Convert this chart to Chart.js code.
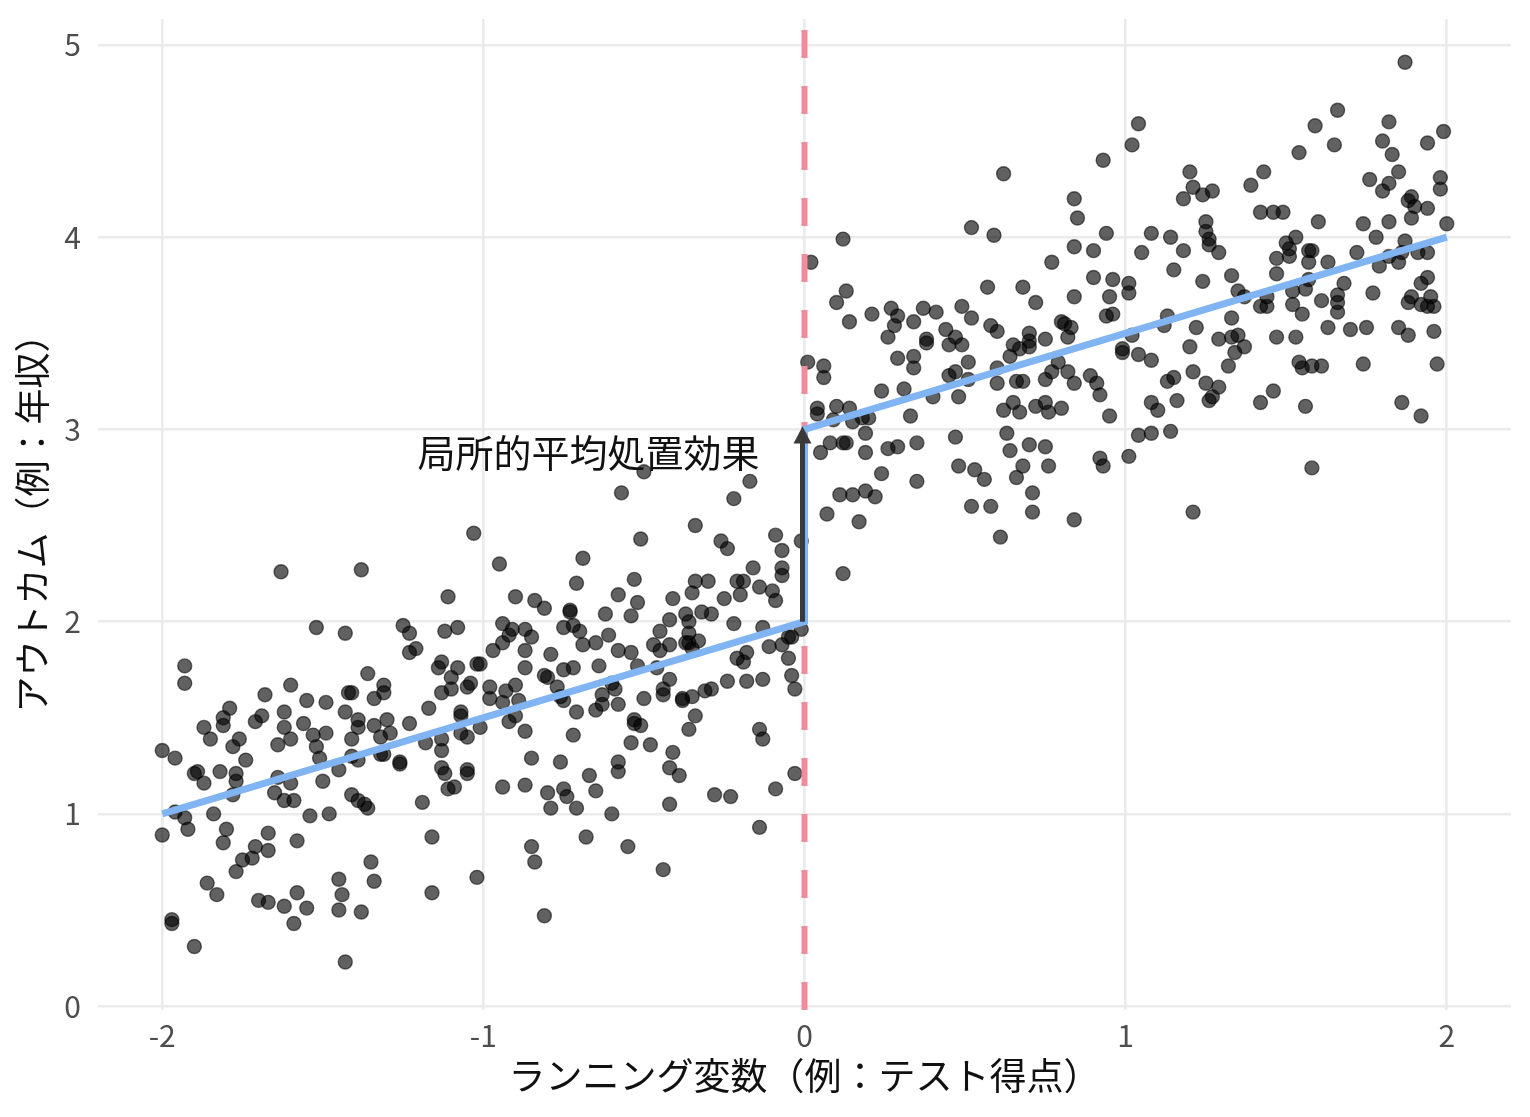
<!DOCTYPE html>
<html lang="ja">
<head>
<meta charset="utf-8">
<title>回帰不連続デザイン</title>
<script src="https://cdn.jsdelivr.net/npm/chart.js@4.4.1/dist/chart.umd.min.js"></script>
<style>
  html, body { margin: 0; padding: 0; background: #fff; }
  #wrap { width: 1530px; height: 1117px; }
</style>
</head>
<body>
<div id="wrap"><canvas id="grafica"></canvas></div>
<script>
const FONT = '"Noto Sans CJK JP", "Noto Sans", sans-serif';

// axis ticks / ranges
const xTicks = [-2, -1, 0, 1, 2];
const yTicks = [0, 1, 2, 3, 4, 5];
const xRange = [-2.2, 2.2];
const yRange = [-0.02, 5.135];

// cutoff and fitted line
const cutoff = 0;
const fitX = [-2, 0, 0, 2];
const fitY = [1, 2, 3, 4];

// effect arrow + label
const effectY = [2, 3];
const effectLabel = '局所的平均処置効果';
const labelAt = [-0.14, 2.88];

const belowCutoff = [
  [-1.63,2.26],[-1.38,2.27],[-1.11,2.13],[-1.93,1.77],[-1.93,1.68],[-1.52,1.97],[-1.43,1.94],[-1.25,1.98],
  [-1.23,1.94],[-1.21,1.86],[-1.23,1.84],[-1.12,1.95],[-1.08,1.97],[-1.13,1.79],[-1.14,1.76],[-1.08,1.76],
  [-1.02,1.78],[-1.10,1.71],[-1.10,1.65],[-1.13,1.63],[-1.04,1.68],[-1.05,1.66],[-1.36,1.73],[-1.60,1.67],
  [-1.68,1.62],[-1.55,1.59],[-1.49,1.58],[-1.42,1.63],[-1.41,1.63],[-1.31,1.67],[-1.31,1.63],[-1.34,1.60],
  [-1.79,1.55],[-1.81,1.50],[-1.81,1.46],[-1.87,1.45],[-1.85,1.39],[-1.71,1.48],[-1.69,1.51],[-1.62,1.53],
  [-1.62,1.45],[-1.56,1.47],[-1.60,1.39],[-1.53,1.41],[-1.49,1.42],[-1.52,1.35],[-1.43,1.53],[-1.39,1.49],
  [-1.39,1.45],[-1.34,1.46],[-1.30,1.49],[-1.29,1.42],[-1.32,1.40],[-1.41,1.39],[-1.23,1.47],[-1.17,1.55],
  [-1.07,1.53],[-1.07,1.51],[-1.07,1.42],[-1.05,1.40],[-1.13,1.39],[-1.13,1.33],[-1.18,1.37],[-1.64,1.36],
  [-1.76,1.39],[-1.78,1.35],[-2.00,1.33],[-1.96,1.29],
  [-1.90,1.21],[-1.89,1.22],[-1.87,1.16],[-1.82,1.22],[-1.77,1.21],[-1.77,1.17],[-1.78,1.10],[-1.74,1.28],
  [-1.65,1.11],[-1.64,1.19],[-1.60,1.16],[-1.62,1.07],[-1.59,1.07],[-1.51,1.29],[-1.50,1.17],[-1.45,1.23],
  [-1.41,1.10],[-1.39,1.07],[-1.37,1.05],[-1.36,1.03],[-1.41,1.30],[-1.39,1.28],[-1.32,1.31],[-1.31,1.31],
  [-1.26,1.27],[-1.26,1.26],[-1.13,1.24],[-1.12,1.21],[-1.05,1.23],[-1.05,1.21],[-1.11,1.13],[-1.09,1.14],
  [-1.19,1.06],[-1.96,1.01],[-1.93,0.98],[-1.92,0.92],[-1.84,1.00],[-2.00,0.89],[-1.80,0.92],[-1.81,0.85],
  [-1.67,0.90],[-1.71,0.83],[-1.72,0.77],[-1.67,0.81],[-1.75,0.76],[-1.77,0.70],[-1.58,0.86],[-1.54,0.99],
  [-1.48,1.00],[-1.16,0.88],[-1.35,0.75],[-1.34,0.65],[-1.45,0.66],[-1.44,0.58],[-1.45,0.50],[-1.38,0.49],
  [-1.16,0.59],[-1.02,0.67],[-1.86,0.64],[-1.83,0.58],[-1.70,0.55],[-1.67,0.54],[-1.62,0.52],[-1.58,0.59],
  [-1.55,0.51],[-1.59,0.43],[-1.97,0.45],[-1.97,0.43],[-1.90,0.31],[-1.43,0.23],
  [-0.50,2.78],[-0.17,2.73],[-0.57,2.67],[-0.22,2.64],[-1.03,2.46],[-0.34,2.50],[-0.51,2.43],[-0.26,2.42],
  [-0.24,2.38],[-0.09,2.45],[-0.07,2.37],[-0.01,2.42],[-0.95,2.30],[-0.69,2.33],[-0.71,2.20],[-0.53,2.22],
  [-0.16,2.28],[-0.07,2.28],[-0.07,2.24],[-0.34,2.21],[-0.30,2.21],[-0.21,2.21],[-0.19,2.21],[-0.35,2.15],
  [-0.14,2.18],[-0.10,2.16],[-0.09,2.11],[-0.20,2.14],[-0.25,2.12],[-0.90,2.13],[-0.84,2.11],[-0.81,2.07],
  [-0.58,2.14],[-0.52,2.10],[-0.41,2.12],[-0.73,2.06],[-0.62,2.04],[-0.54,2.03],[-0.37,2.04],[-0.36,2.00],
  [-0.32,2.05],[-0.29,2.04],[-0.42,2.01],[-0.22,1.99],[-0.13,1.97],[-0.94,1.99],[-0.91,1.96],[-0.87,1.96],
  [-0.85,1.92],[-0.92,1.93],[-0.94,1.89],[-0.75,1.97],[-0.72,1.98],[-0.70,1.95],[-0.73,2.05],[-0.61,1.93],
  [-0.45,1.95],[-0.36,1.94],[-0.36,1.89],[-0.33,1.90],[-0.37,1.89],[-0.69,1.88],[-0.65,1.89],[-0.58,1.85],
  [-0.54,1.84],[-0.47,1.88],[-0.45,1.85],[-0.42,1.88],[-0.35,1.86],[-0.97,1.85],[-0.87,1.85],[-0.79,1.83],
  [-1.01,1.78],[-0.87,1.76],[-0.75,1.75],[-0.72,1.76],[-0.64,1.77],[-0.52,1.77],[-0.46,1.76],[-0.81,1.72],
  [-0.80,1.71],[-0.77,1.66],[-0.90,1.67],[-0.93,1.64],[-0.98,1.66],[-0.98,1.60],[-0.89,1.59],[-0.94,1.58],
  [-0.76,1.61],[-0.75,1.59],[-0.71,1.53],[-0.65,1.54],[-0.63,1.62],[-0.60,1.68],[-0.59,1.65],[-0.58,1.57],
  [-0.50,1.60],[-0.44,1.65],[-0.44,1.62],[-0.42,1.70],[-0.38,1.60],[-0.38,1.59],[-0.35,1.61],[-0.31,1.64],
  [-0.29,1.65],[-0.24,1.69],[-0.18,1.69],[-0.13,1.70],[-0.11,1.87],[-0.07,1.88],[-0.05,1.92],[-0.04,1.92],
  [-0.01,1.96],[-0.05,1.81],[-0.21,1.81],[-0.18,1.84],[-0.19,1.79],[-0.04,1.72],[-0.03,1.65],[-0.34,1.51],
  [-0.53,1.49],
  [-0.63,1.57],[-0.90,1.51],[-0.92,1.48],[-1.01,1.45],[-0.87,1.43],[-0.72,1.41],[-0.53,1.47],[-0.51,1.46],
  [-0.36,1.44],[-0.54,1.37],[-0.48,1.36],[-0.41,1.32],[-0.14,1.44],[-0.13,1.39],[-0.85,1.29],[-0.76,1.27],
  [-0.58,1.27],[-0.58,1.22],[-0.67,1.20],[-0.42,1.24],[-0.39,1.20],[-0.94,1.14],[-0.87,1.15],[-0.80,1.11],
  [-0.75,1.13],[-0.74,1.09],[-0.65,1.12],[-0.79,1.03],[-0.71,1.03],[-0.60,1.00],[-0.42,1.05],[-0.28,1.10],
  [-0.23,1.09],[-0.09,1.13],[-0.03,1.21],[-0.14,0.93],[-0.68,0.88],[-0.85,0.83],[-0.84,0.75],[-0.55,0.83],
  [-0.44,0.71],[-0.81,0.47]
];

const aboveCutoff = [
  [0.62,4.33],[0.93,4.40],[0.84,4.20],[0.85,4.10],[0.52,4.05],[0.59,4.01],[0.94,4.02],[0.12,3.99],
  [0.84,3.95],[0.90,3.93],[0.02,3.87],[0.77,3.87],[0.13,3.72],[0.10,3.66],[0.57,3.74],[0.68,3.74],
  [0.90,3.79],[0.96,3.78],[1.01,3.76],[0.84,3.69],[0.95,3.69],[1.01,3.71],[0.72,3.66],[0.21,3.60],
  [0.27,3.63],[0.29,3.59],[0.28,3.54],[0.34,3.56],[0.37,3.63],[0.41,3.61],[0.49,3.64],[0.52,3.58],
  [0.58,3.54],[0.60,3.51],[0.14,3.56],[0.26,3.48],[0.44,3.52],[0.47,3.48],[0.45,3.44],[0.49,3.44],
  [0.38,3.47],[0.38,3.45],[0.34,3.38],[0.29,3.37],[0.34,3.32],[0.51,3.35],[0.65,3.44],[0.70,3.50],
  [0.70,3.46],[0.70,3.43],[0.67,3.42],[0.64,3.38],[0.75,3.47],[0.80,3.56],[0.81,3.55],[0.83,3.53],
  [0.82,3.48],[0.94,3.59],[0.96,3.60],[0.99,3.42],[0.99,3.40],[0.79,3.35],[0.82,3.30],[0.77,3.30],
  [0.75,3.26],[0.89,3.28],[0.91,3.24],[0.84,3.24],[0.45,3.28],[0.47,3.30],[0.51,3.26],[0.60,3.32],
  [0.60,3.24],[0.66,3.25],[0.68,3.25],[0.01,3.35],[0.06,3.33],[0.06,3.27],[0.24,3.20],[0.31,3.21],
  [0.92,3.18],[0.40,3.17],[0.48,3.17],[0.04,3.11],[0.04,3.08],[0.10,3.12],[0.14,3.11],[0.15,3.04],
  [0.09,3.05],[0.18,3.06],[0.20,3.06],[0.33,3.07],[0.62,3.10],[0.65,3.14],[0.67,3.09],[0.72,3.12],
  [0.75,3.14],[0.76,3.09],[0.80,3.11],[0.95,3.07],[0.19,2.98],[0.08,2.93],[0.12,2.93],[0.13,2.93],
  [0.05,2.88],[0.19,2.88],[0.26,2.90],[0.29,2.91],[0.35,2.93],[0.47,2.96],[0.63,2.98],[0.64,2.89],
  [0.70,2.92],[0.75,2.91],[0.92,2.85],[0.93,2.81],[1.01,2.86],[0.24,2.77],[0.35,2.73],[0.48,2.81],
  [0.53,2.79],[0.56,2.74],[0.68,2.81],[0.66,2.75],[0.76,2.81],[0.11,2.66],[0.15,2.66],[0.19,2.68],
  [0.22,2.65],[0.71,2.67],[0.07,2.56],[0.17,2.52],[0.52,2.60],[0.58,2.60],[0.71,2.57],[0.84,2.53],
  [0.61,2.44],[0.12,2.25],
  [1.87,4.91],[1.66,4.66],[1.04,4.59],[1.02,4.48],[1.59,4.58],[1.82,4.60],[1.99,4.55],[1.80,4.50],
  [1.83,4.43],[1.94,4.49],[1.65,4.48],[1.54,4.44],[1.20,4.34],[1.43,4.34],[1.39,4.27],[1.21,4.26],
  [1.18,4.20],[1.24,4.22],[1.27,4.24],[1.76,4.30],[1.85,4.34],[1.82,4.28],[1.80,4.24],[1.98,4.31],
  [1.98,4.25],[1.89,4.21],[1.88,4.19],[1.90,4.16],[1.94,4.15],[1.89,4.10],[1.42,4.13],[1.46,4.13],
  [1.49,4.13],[1.60,4.08],[1.74,4.07],[1.82,4.08],[2.00,4.07],[1.25,4.08],[1.25,4.03],[1.26,3.99],
  [1.26,3.96],[1.29,3.92],[1.08,4.02],[1.14,4.00],[1.18,3.93],[1.05,3.92],[1.15,3.83],[1.24,3.77],
  [1.50,3.97],[1.53,4.00],[1.51,3.94],[1.47,3.89],[1.51,3.90],[1.47,3.81],[1.57,3.93],[1.58,3.93],
  [1.57,3.87],[1.63,3.87],[1.72,3.92],[1.78,4.00],[1.87,3.98],[1.86,3.92],[1.82,3.90],[1.85,3.87],
  [1.91,3.92],[1.94,3.92],[1.79,3.85],[1.33,3.80],[1.35,3.72],[1.57,3.78],[1.56,3.73],[1.68,3.76],
  [1.77,3.71],[1.94,3.79],[1.92,3.76],[1.95,3.69],[1.89,3.69],[1.66,3.70],[1.61,3.67],
  [1.37,3.69],[1.44,3.69],[1.52,3.72],[1.52,3.65],[1.55,3.60],[1.42,3.64],[1.44,3.64],[1.66,3.66],
  [1.66,3.61],[1.88,3.66],[1.92,3.65],[1.94,3.64],[1.96,3.64],[1.13,3.59],[1.12,3.54],[1.02,3.49],
  [1.33,3.58],[1.22,3.53],[1.63,3.53],[1.70,3.52],[1.75,3.53],[1.85,3.53],[1.88,3.49],[1.96,3.51],
  [1.47,3.48],[1.53,3.48],[1.29,3.47],[1.33,3.48],[1.35,3.49],[1.37,3.43],[1.34,3.40],[1.20,3.43],
  [1.04,3.39],[1.08,3.36],[1.32,3.33],[1.54,3.35],[1.55,3.32],[1.58,3.33],[1.61,3.33],[1.74,3.34],
  [1.97,3.34],[1.13,3.25],[1.15,3.27],[1.21,3.30],[1.25,3.24],[1.29,3.22],[1.26,3.15],[1.27,3.17],
  [1.08,3.14],[1.10,3.10],[1.16,3.15],[1.42,3.14],[1.46,3.20],[1.56,3.12],[1.86,3.14],[1.92,3.07],
  [1.04,2.97],[1.08,2.98],[1.14,2.99],[1.58,2.80],[1.21,2.57]
];

const toPoints = arr => arr.map(([x, y]) => ({ x, y }));

// arrow for the jump at the cutoff plus its label
const efectoPlugin = {
  id: 'efecto',
  afterDatasetsDraw(chart) {
    const { ctx, scales: { x, y } } = chart;
    const px = x.getPixelForValue(cutoff) - 2;
    const yFrom = y.getPixelForValue(effectY[0]);
    const yTo = y.getPixelForValue(effectY[1]);
    ctx.save();
    ctx.strokeStyle = '#3a3a3a';
    ctx.fillStyle = '#3a3a3a';
    ctx.lineWidth = 5;
    ctx.beginPath();
    ctx.moveTo(px, yFrom);
    ctx.lineTo(px, yTo + 10);
    ctx.stroke();
    ctx.beginPath();
    ctx.moveTo(px, yTo - 3);
    ctx.lineTo(px - 9, yTo + 14);
    ctx.lineTo(px + 9, yTo + 14);
    ctx.closePath();
    ctx.fill();

    ctx.font = '38px ' + FONT;
    ctx.fillStyle = '#111';
    ctx.textAlign = 'right';
    ctx.textBaseline = 'middle';
    ctx.fillText(effectLabel, x.getPixelForValue(labelAt[0]), y.getPixelForValue(labelAt[1]));
    ctx.restore();
  }
};

const gridStyle = { color: '#ebebeb', lineWidth: 2.6, drawTicks: false };
const tickStyle = { color: '#4d4d4d', font: { size: 30, family: FONT } };

new Chart(document.getElementById('grafica').getContext('2d'), {
  type: 'scatter',
  data: {
    datasets: [
      {
        label: 'obs',
        data: toPoints(belowCutoff.concat(aboveCutoff)),
        pointRadius: 7,
        pointHoverRadius: 7,
        backgroundColor: 'rgba(0,0,0,0.62)',
        borderColor: 'rgba(0,0,0,0.55)',
        borderWidth: 1.4,
        order: 3
      },
      {
        label: 'cutoff',
        data: [{ x: cutoff, y: yRange[0] }, { x: cutoff, y: yRange[1] }],
        showLine: true,
        borderColor: '#f48a9d',
        borderWidth: 6,
        borderDash: [28, 28],
        pointRadius: 0,
        order: 2
      },
      {
        label: 'fit',
        data: fitX.map((v, i) => ({ x: v, y: fitY[i] })),
        showLine: true,
        borderColor: '#80b4f3',
        borderWidth: 7,
        pointRadius: 0,
        order: 1
      }
    ]
  },
  options: {
    responsive: true,
    maintainAspectRatio: false,
    animation: false,
    layout: { padding: { top: 19, right: 19, bottom: 0, left: 0 } },
    plugins: { legend: { display: false }, tooltip: { enabled: false } },
    scales: {
      x: {
        type: 'linear',
        min: xRange[0],
        max: xRange[1],
        afterBuildTicks: s => { s.ticks = xTicks.map(v => ({ value: v })); },
        afterFit: s => { s.height = 107; s.paddingLeft = 0; s.paddingRight = 0; },
        grid: gridStyle,
        border: { display: false },
        ticks: { ...tickStyle, padding: 8 },
        title: {
          display: true,
          text: 'ランニング変数（例：テスト得点）',
          color: '#111',
          font: { size: 37, family: FONT },
          padding: { top: 0, bottom: 19 }
        }
      },
      y: {
        type: 'linear',
        min: yRange[0],
        max: yRange[1],
        afterBuildTicks: s => { s.ticks = yTicks.map(v => ({ value: v })); },
        afterFit: s => { s.width = 98; s.paddingTop = 0; s.paddingBottom = 0; },
        grid: gridStyle,
        border: { display: false },
        ticks: { ...tickStyle, padding: 17 },
        title: {
          display: true,
          text: 'アウトカム（例：年収）',
          color: '#111',
          font: { size: 36, family: FONT },
          padding: { top: 11, bottom: 0 }
        }
      }
    }
  },
  plugins: [efectoPlugin]
});
</script>
</body>
</html>
